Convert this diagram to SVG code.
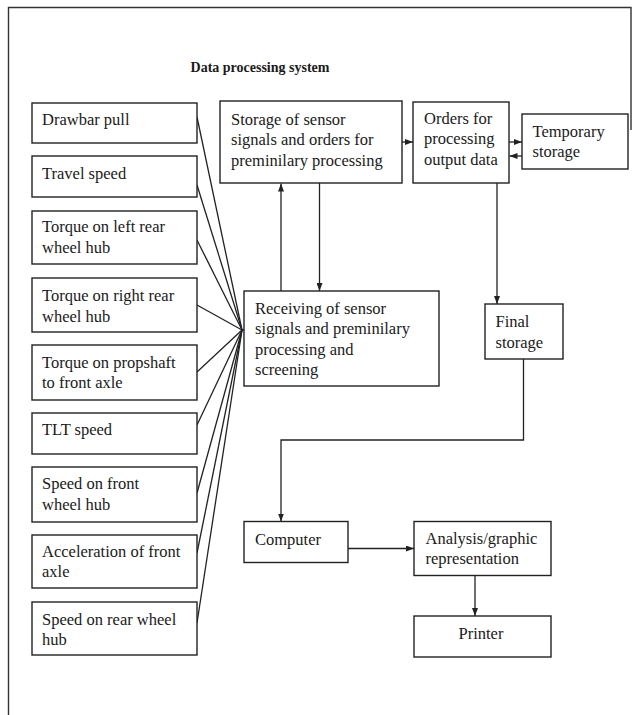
<svg xmlns="http://www.w3.org/2000/svg" width="633" height="715" viewBox="0 0 633 715">
<style>
rect.n{fill:#fff;stroke:#222;stroke-width:1.4}
text{font-family:"Liberation Serif","Times New Roman",serif;font-size:16.5px;fill:#1a1a1a}
.title{font-weight:bold;font-size:14px}
.c{fill:none;stroke:#222;stroke-width:1.3}
</style>
<defs>
<marker id="ah" viewBox="0 0 8 6" refX="8" refY="3" markerWidth="8" markerHeight="6" markerUnits="userSpaceOnUse" orient="auto">
<path d="M0,0 L8,3 L0,6 Z" fill="#222"/>
</marker>
</defs>
<rect width="633" height="715" fill="#fff"/>
<path d="M8.5,715 V7.5 H631 V130" fill="none" stroke="#333" stroke-width="1.4"/>
<text class="title" x="260" y="72" text-anchor="middle">Data processing system</text>

<g id="connectors">
<path class="c" d="M197,117 L242,330"/>
<path class="c" d="M197,185 L242,330"/>
<path class="c" d="M197,240 L242,330"/>
<path class="c" d="M197,305 L242,330"/>
<path class="c" d="M197,372 L242,330"/>
<path class="c" d="M197,425 L242,330"/>
<path class="c" d="M197,493 L242,330"/>
<path class="c" d="M197,553 L242,330"/>
<path class="c" d="M197,623 L242,330"/>
<path class="c" d="M242,330 L244,330"/>
<path class="c" d="M281,291 V183.5" marker-end="url(#ah)"/>
<path class="c" d="M319.5,183 V291" marker-end="url(#ah)"/>
<path class="c" d="M402,142 H413" marker-end="url(#ah)"/>
<path class="c" d="M509,142 H522" marker-end="url(#ah)"/>
<path class="c" d="M522,156 H509.5" marker-end="url(#ah)"/>
<path class="c" d="M497,183 V304" marker-end="url(#ah)"/>
<path class="c" d="M523.5,359 V440 H281 V521.5" marker-end="url(#ah)"/>
<path class="c" d="M348,548.5 H414" marker-end="url(#ah)"/>
<path class="c" d="M475,575.5 V616" marker-end="url(#ah)"/>
</g>

<g id="drawbar-pull"><rect class="n" x="32" y="103" width="165" height="40"/><text x="42" y="125">Drawbar pull</text></g>
<g id="travel-speed"><rect class="n" x="32" y="156" width="165" height="41"/><text x="42" y="179">Travel speed</text></g>
<g id="torque-left"><rect class="n" x="32" y="211" width="165" height="53"/><text x="42" y="232">Torque on left rear</text><text x="42" y="253">wheel hub</text></g>
<g id="torque-right"><rect class="n" x="32" y="278" width="165" height="54"/><text x="42" y="301">Torque on right rear</text><text x="42" y="322">wheel hub</text></g>
<g id="torque-propshaft"><rect class="n" x="32" y="345" width="165" height="55"/><text x="42" y="367.5">Torque on propshaft</text><text x="42" y="388">to front axle</text></g>
<g id="tlt-speed"><rect class="n" x="32" y="413" width="165" height="41"/><text x="42" y="435">TLT speed</text></g>
<g id="speed-front"><rect class="n" x="32" y="467" width="165" height="55"/><text x="42" y="489">Speed on front</text><text x="42" y="510">wheel hub</text></g>
<g id="acceleration"><rect class="n" x="32" y="535" width="165" height="53"/><text x="42" y="556.5">Acceleration of front</text><text x="42" y="577">axle</text></g>
<g id="speed-rear"><rect class="n" x="32" y="602" width="165" height="53"/><text x="42" y="624.5">Speed on rear wheel</text><text x="42" y="645">hub</text></g>

<g id="storage"><rect class="n" x="220" y="101" width="182" height="82"/><text x="231" y="124.5">Storage of sensor</text><text x="231" y="145">signals and orders for</text><text x="231" y="166">preminilary processing</text></g>
<g id="orders"><rect class="n" x="413" y="102" width="96" height="81"/><text x="424" y="123.5">Orders for</text><text x="424" y="144">processing</text><text x="424" y="164.5">output data</text></g>
<g id="temporary"><rect class="n" x="522" y="114" width="106" height="55"/><text x="532.5" y="137">Temporary</text><text x="532.5" y="157">storage</text></g>
<g id="receiving"><rect class="n" x="244" y="291" width="195" height="95"/><text x="255" y="313.5">Receiving of sensor</text><text x="255" y="334">signals and preminilary</text><text x="255" y="354.5">processing and</text><text x="255" y="375">screening</text></g>
<g id="final-storage"><rect class="n" x="485" y="304" width="78" height="55"/><text x="495.5" y="327">Final</text><text x="495.5" y="347.5">storage</text></g>
<g id="computer"><rect class="n" x="244" y="521.5" width="104" height="41"/><text x="255" y="545">Computer</text></g>
<g id="analysis"><rect class="n" x="414" y="521.5" width="137" height="54"/><text x="425.5" y="543.5">Analysis/graphic</text><text x="425.5" y="564">representation</text></g>
<g id="printer"><rect class="n" x="414" y="616" width="137" height="41"/><text x="481" y="638.5" text-anchor="middle">Printer</text></g>
</svg>
